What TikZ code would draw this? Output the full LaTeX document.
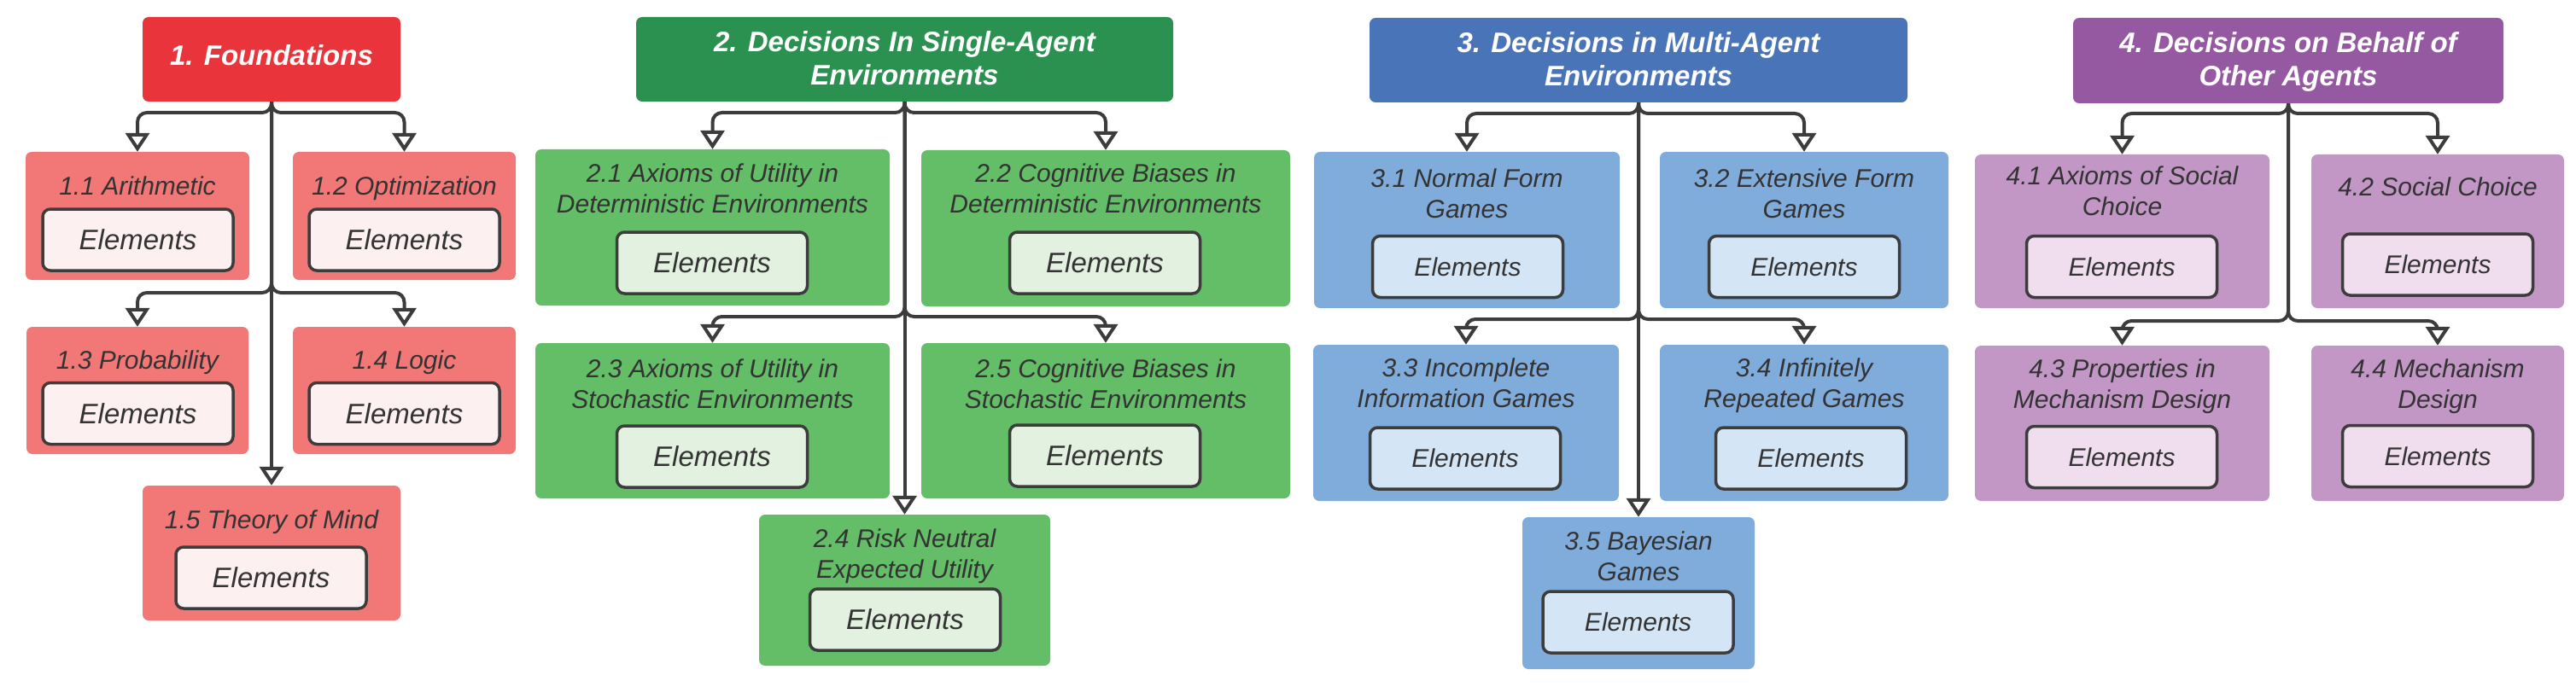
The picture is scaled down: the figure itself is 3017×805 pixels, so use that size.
\documentclass[tikz,border=0pt]{standalone}
\usepackage{fontspec}
\setmainfont{Liberation Sans}
\usetikzlibrary{arrows.meta,fit,calc}
\definecolor{redH}{HTML}{E8343A}
\definecolor{redC}{HTML}{F27777}
\definecolor{redE}{HTML}{FDF0F0}
\definecolor{greenH}{HTML}{2B9150}
\definecolor{greenC}{HTML}{64BD67}
\definecolor{greenE}{HTML}{E3F2E0}
\definecolor{blueH}{HTML}{4A74B8}
\definecolor{blueC}{HTML}{80ACDC}
\definecolor{blueE}{HTML}{D4E5F5}
\definecolor{purpleH}{HTML}{9459A1}
\definecolor{purpleC}{HTML}{C297C5}
\definecolor{purpleE}{HTML}{F0DDEE}
\definecolor{txtC}{HTML}{333333}
\definecolor{lineC}{HTML}{3C3C3C}
\begin{document}
\begin{tikzpicture}[x=1pt,y=-1pt,
 hdr/.style={rounded corners=7pt, inner sep=0pt},
 sub/.style={rounded corners=7pt, inner sep=0pt},
 elem/.style={draw=lineC, line width=3.5pt, rounded corners=9pt, inner sep=0pt, text=txtC,
   minimum width=223pt, minimum height=72pt},
 elemA/.style={elem, font=\fontsize{33}{39}\selectfont\itshape},
 elemB/.style={elem, font=\fontsize{30}{36}\selectfont\itshape},
 ttl/.style={anchor=north, align=center, inner sep=0pt, text=txtC, font=\fontsize{30}{36}\selectfont\itshape},
 htxt/.style={anchor=north, align=center, inner sep=0pt, text=white, font=\fontsize{33}{39}\selectfont\bfseries\itshape},
 conn/.style={draw=lineC, line width=4pt, -{Triangle[open, length=22pt, width=28pt, fill=white]}},
 rcorner/.style={rounded corners=11pt},
]
\path[use as bounding box] (0,0) rectangle (3017,805);

% ---------- Column 1 ----------
\node[hdr, fill=redH, fit={(167,20) (469,119)}] (h1) {};
\node[htxt] (h1t) at (318,52) {1. Foundations};
\node[sub, fill=redC, fit={(30,178) (292,328)}] (c11) {};
\node[ttl] (c11t) at (161,207) {1.1 Arithmetic};
\node[elemA, fill=redE] (e11) at (161.5,281) {Elements};
\node[sub, fill=redC, fit={(343,178) (604,328)}] (c12) {};
\node[ttl] (c12t) at (473.5,207) {1.2 Optimization};
\node[elemA, fill=redE] (e12) at (473.5,281) {Elements};
\node[sub, fill=redC, fit={(31,383) (291,532)}] (c13) {};
\node[ttl] (c13t) at (161,411) {1.3 Probability};
\node[elemA, fill=redE] (e13) at (161.5,484.5) {Elements};
\node[sub, fill=redC, fit={(343,383) (604,532)}] (c14) {};
\node[ttl] (c14t) at (473.5,411) {1.4 Logic};
\node[elemA, fill=redE] (e14) at (473.5,484.5) {Elements};
\node[sub, fill=redC, fit={(167,569) (469,727)}] (c15) {};
\node[ttl] (c15t) at (318,598) {1.5 Theory of Mind};
\node[elemA, fill=redE] (e15) at (317.5,677) {Elements};
\coordinate (r1a) at (0,132);
\coordinate (r1b) at (0,343);
\draw[conn] (h1.south) [rcorner] -- (h1.south |- r1a) -| (c11.north) [sharp corners];
\draw[conn] (h1.south) [rcorner] -- (h1.south |- r1a) -| (c12.north) [sharp corners];
\draw[conn] (h1.south) [rcorner] -- (h1.south |- r1b) -| (c13.north) [sharp corners];
\draw[conn] (h1.south) [rcorner] -- (h1.south |- r1b) -| (c14.north) [sharp corners];
\draw[conn] (h1.south) -- (c15.north);

% ---------- Column 2 ----------
\node[hdr, fill=greenH, fit={(745,20) (1374,119)}] (h2) {};
\node[htxt] (h2t) at (1059.5,36) {2. Decisions In Single-Agent\\Environments};
\node[sub, fill=greenC, fit={(627,175) (1042,358)}] (c21) {};
\node[ttl] (c21t) at (834.5,192) {2.1 Axioms of Utility in\\Deterministic Environments};
\node[elemA, fill=greenE] (e21) at (834,308) {Elements};
\node[sub, fill=greenC, fit={(1079,176) (1511,359)}] (c22) {};
\node[ttl] (c22t) at (1295,192) {2.2 Cognitive Biases in\\Deterministic Environments};
\node[elemA, fill=greenE] (e22) at (1294,308) {Elements};
\node[sub, fill=greenC, fit={(627,402) (1042,584)}] (c23) {};
\node[ttl] (c23t) at (834.5,421) {2.3 Axioms of Utility in\\Stochastic Environments};
\node[elemA, fill=greenE] (e23) at (834,535) {Elements};
\node[sub, fill=greenC, fit={(1079,402) (1511,584)}] (c25) {};
\node[ttl] (c25t) at (1295,421) {2.5 Cognitive Biases in\\Stochastic Environments};
\node[elemA, fill=greenE] (e25) at (1294,534) {Elements};
\node[sub, fill=greenC, fit={(889,603) (1230,780)}] (c24) {};
\node[ttl] (c24t) at (1059.5,620) {2.4 Risk Neutral\\Expected Utility};
\node[elemA, fill=greenE] (e24) at (1060,726) {Elements};
\coordinate (r2a) at (0,132);
\coordinate (r2b) at (0,371);
\draw[conn] (h2.south) [rcorner] -- (h2.south |- r2a) -| (c21.north) [sharp corners];
\draw[conn] (h2.south) [rcorner] -- (h2.south |- r2a) -| (c22.north) [sharp corners];
\draw[conn] (h2.south) [rcorner] -- (h2.south |- r2b) -| (c23.north) [sharp corners];
\draw[conn] (h2.south) [rcorner] -- (h2.south |- r2b) -| (c25.north) [sharp corners];
\draw[conn] (h2.south) -- (c24.north);

% ---------- Column 3 ----------
\node[hdr, fill=blueH, fit={(1604,21) (2234,120)}] (h3) {};
\node[htxt] (h3t) at (1919,37) {3. Decisions in Multi-Agent\\Environments};
\node[sub, fill=blueC, fit={(1539,178) (1897,361)}] (c31) {};
\node[ttl] (c31t) at (1718,198) {3.1 Normal Form\\Games};
\node[elemB, fill=blueE] (e31) at (1719,312.5) {Elements};
\node[sub, fill=blueC, fit={(1944,178) (2282,361)}] (c32) {};
\node[ttl] (c32t) at (2113,198) {3.2 Extensive Form\\Games};
\node[elemB, fill=blueE] (e32) at (2113,312.5) {Elements};
\node[sub, fill=blueC, fit={(1538,404) (1896,587)}] (c33) {};
\node[ttl] (c33t) at (1717,420) {3.3 Incomplete\\Information Games};
\node[elemB, fill=blueE] (e33) at (1716,537) {Elements};
\node[sub, fill=blueC, fit={(1944,404) (2282,587)}] (c34) {};
\node[ttl] (c34t) at (2113,420) {3.4 Infinitely\\Repeated Games};
\node[elemB, fill=blueE] (e34) at (2121,537) {Elements};
\node[sub, fill=blueC, fit={(1783,606) (2055,784)}] (c35) {};
\node[ttl] (c35t) at (1919,623) {3.5 Bayesian\\Games};
\node[elemB, fill=blueE] (e35) at (1918.5,729) {Elements};
\coordinate (r3a) at (0,133);
\coordinate (r3b) at (0,374);
\draw[conn] (h3.south) [rcorner] -- (h3.south |- r3a) -| (c31.north) [sharp corners];
\draw[conn] (h3.south) [rcorner] -- (h3.south |- r3a) -| (c32.north) [sharp corners];
\draw[conn] (h3.south) [rcorner] -- (h3.south |- r3b) -| (c33.north) [sharp corners];
\draw[conn] (h3.south) [rcorner] -- (h3.south |- r3b) -| (c34.north) [sharp corners];
\draw[conn] (h3.south) -- (c35.north);

% ---------- Column 4 ----------
\node[hdr, fill=purpleH, fit={(2428,21) (2932,121)}] (h4) {};
\node[htxt] (h4t) at (2680,37) {4. Decisions on Behalf of\\Other Agents};
\node[sub, fill=purpleC, fit={(2313,181) (2658,361)}] (c41) {};
\node[ttl] (c41t) at (2485.5,195) {4.1 Axioms of Social\\Choice};
\node[elemB, fill=purpleE] (e41) at (2485,312.5) {Elements};
\node[sub, fill=purpleC, fit={(2707,181) (3003,361)}] (c42) {};
\node[ttl] (c42t) at (2855,208) {4.2 Social Choice};
\node[elemB, fill=purpleE] (e42) at (2855,310) {Elements};
\node[sub, fill=purpleC, fit={(2313,405) (2658,587)}] (c43) {};
\node[ttl] (c43t) at (2485.5,421) {4.3 Properties in\\Mechanism Design};
\node[elemB, fill=purpleE] (e43) at (2485,535.5) {Elements};
\node[sub, fill=purpleC, fit={(2707,405) (3003,587)}] (c44) {};
\node[ttl] (c44t) at (2855,421) {4.4 Mechanism\\Design};
\node[elemB, fill=purpleE] (e44) at (2855,534.5) {Elements};
\coordinate (r4a) at (0,133);
\coordinate (r4b) at (0,376);
\draw[conn] (h4.south) [rcorner] -- (h4.south |- r4a) -| (c41.north) [sharp corners];
\draw[conn] (h4.south) [rcorner] -- (h4.south |- r4a) -| (c42.north) [sharp corners];
\draw[conn] (h4.south) [rcorner] -- (h4.south |- r4b) -| (c43.north) [sharp corners];
\draw[conn] (h4.south) [rcorner] -- (h4.south |- r4b) -| (c44.north) [sharp corners];
\end{tikzpicture}
\end{document}
